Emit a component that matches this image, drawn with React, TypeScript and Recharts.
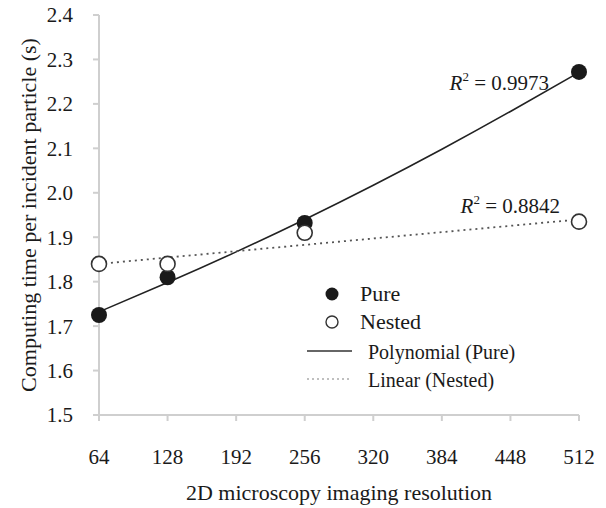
import {
  ComposedChart,
  Scatter,
  Line,
  XAxis,
  YAxis,
  Legend,
  Label,
  ReferenceDot,
} from "recharts";

const resolutions = [64, 128, 256, 512];
const pureTimes = [1.725, 1.81, 1.932, 2.272];
const nestedTimes = [1.84, 1.84, 1.91, 1.935];

// trend lines
const polyTrendX = [64, 128, 192, 256, 320, 384, 448, 512];
const polyTrendY = [1.732, 1.798, 1.867, 1.94, 2.017, 2.098, 2.183, 2.271];
const linearTrendX = [64, 512];
const linearTrendY = [1.84, 1.94];

const xTicks = [64, 128, 192, 256, 320, 384, 448, 512];
const yTicks = [1.5, 1.6, 1.7, 1.8, 1.9, 2.0, 2.1, 2.2, 2.3, 2.4];

const FONT = "'Liberation Serif', 'Times New Roman', serif";
const AXIS = "#cfcfcf";
const INK = "#1a1a1a";

const pureData = resolutions.map((x, i) => ({ x, y: pureTimes[i] }));
const nestedData = resolutions.map((x, i) => ({ x, y: nestedTimes[i] }));
const polyData = polyTrendX.map((x, i) => ({ x, y: polyTrendY[i] }));
const linearData = linearTrendX.map((x, i) => ({ x, y: linearTrendY[i] }));

const FilledDot = (props: any) => (
  <circle cx={props.cx} cy={props.cy} r={8} fill={INK} />
);
const OpenDot = (props: any) => (
  <circle cx={props.cx} cy={props.cy} r={7.5} fill="#fff" stroke="#333" strokeWidth={1.6} />
);

const rLabel = (value: string, dx: number, dy: number) => (props: any) => {
  const vb = props.viewBox || {};
  const cx = vb.x + (vb.width || 0) / 2;
  const cy = vb.y + (vb.height || 0) / 2;
  return (
    <text
      x={cx + dx}
      y={cy + dy}
      textAnchor="end"
      fontFamily={FONT}
      fontSize={21}
      fill={INK}
    >
      <tspan fontStyle="italic">R</tspan>
      <tspan fontSize={13} dy={-9}>2</tspan>
      <tspan dy={9}>{" = " + value}</tspan>
    </text>
  );
};

const YTitle = (props: any) => {
  const vb = props.viewBox;
  const cy = vb.y + vb.height / 2;
  return (
    <text
      x={28}
      y={cy}
      transform={`rotate(-90, 28, ${cy})`}
      textAnchor="middle"
      dominantBaseline="central"
      fontFamily={FONT}
      fontSize={22}
      fill={INK}
    >
      Computing time per incident particle (s)
    </text>
  );
};

const XTitle = (props: any) => {
  const vb = props.viewBox;
  return (
    <text
      x={vb.x + vb.width / 2}
      y={500}
      textAnchor="middle"
      fontFamily={FONT}
      fontSize={22}
      fill={INK}
    >
      2D microscopy imaging resolution
    </text>
  );
};

const row = (top: number, left: number, size: number, text: string) => (
  <div
    style={{
      position: "absolute",
      left,
      top: top - 13,
      height: 26,
      lineHeight: "26px",
      fontSize: size,
      fontFamily: FONT,
      color: INK,
      whiteSpace: "nowrap",
    }}
  >
    {text}
  </div>
);

const LegendBox = () => (
  <div style={{ position: "relative", width: 606, height: 508 }}>
    <svg
      width={606}
      height={508}
      style={{ position: "absolute", left: 0, top: 0 }}
    >
      <circle cx={332} cy={294} r={6.5} fill={INK} />
      <circle cx={332} cy={322} r={6} fill="#fff" stroke="#333" strokeWidth={1.4} />
      <line x1={307} x2={352} y1={351} y2={351} stroke="#333" strokeWidth={1.6} />
      <line
        x1={307}
        x2={352}
        y1={379}
        y2={379}
        stroke="#aaa"
        strokeWidth={1.6}
        strokeDasharray="2 3"
      />
    </svg>
    {row(294, 360, 22, "Pure")}
    {row(322, 360, 22, "Nested")}
    {row(352, 368, 20, "Polynomial (Pure)")}
    {row(380, 368, 20, "Linear (Nested)")}
  </div>
);

export default function App() {
  return (
    <div style={{ position: "absolute", left: 0, top: 0, background: "#fff" }}>
      <ComposedChart
        width={606}
        height={508}
        margin={{ top: 15, right: 27, left: 0, bottom: 0 }}
        style={{ fontFamily: FONT }}
      >
        <XAxis
          type="number"
          dataKey="x"
          domain={[64, 512]}
          ticks={xTicks}
          interval={0}
          height={93}
          stroke={AXIS}
          strokeWidth={2}
          tickSize={6}
          tickMargin={28}
          tick={{ fill: INK, fontSize: 21, fontFamily: FONT }}
        >
          <Label content={<XTitle />} />
        </XAxis>
        <YAxis
          type="number"
          domain={[1.5, 2.4]}
          ticks={yTicks}
          interval={0}
          width={99}
          stroke={AXIS}
          strokeWidth={2}
          tickSize={6}
          tickMargin={20}
          tickFormatter={(v: number) => v.toFixed(1)}
          tick={{ fill: INK, fontSize: 21, fontFamily: FONT }}
        >
          <Label content={<YTitle />} />
        </YAxis>
        <Line
          data={polyData}
          dataKey="y"
          type="natural"
          stroke="#222"
          strokeWidth={1.6}
          dot={false}
          activeDot={false}
          isAnimationActive={false}
        />
        <Line
          data={linearData}
          dataKey="y"
          type="linear"
          stroke="#555"
          strokeWidth={1.8}
          strokeDasharray="2 4"
          dot={false}
          activeDot={false}
          isAnimationActive={false}
        />
        <Scatter
          name="Pure"
          data={pureData}
          dataKey="y"
          shape={FilledDot}
          isAnimationActive={false}
        />
        <Scatter
          name="Nested"
          data={nestedData}
          dataKey="y"
          shape={OpenDot}
          isAnimationActive={false}
        />
        <ReferenceDot
          x={512}
          y={pureTimes[3]}
          r={0}
          fill="none"
          stroke="none"
          label={rLabel("0.9973", -30, 18)}
        />
        <ReferenceDot
          x={512}
          y={nestedTimes[3]}
          r={0}
          fill="none"
          stroke="none"
          label={rLabel("0.8842", -19, -9)}
        />
        <Legend
          layout="horizontal"
          verticalAlign="middle"
          wrapperStyle={{ left: 0, top: 0, width: 606, height: 508 }}
          content={() => <LegendBox />}
        />
      </ComposedChart>
    </div>
  );
}
